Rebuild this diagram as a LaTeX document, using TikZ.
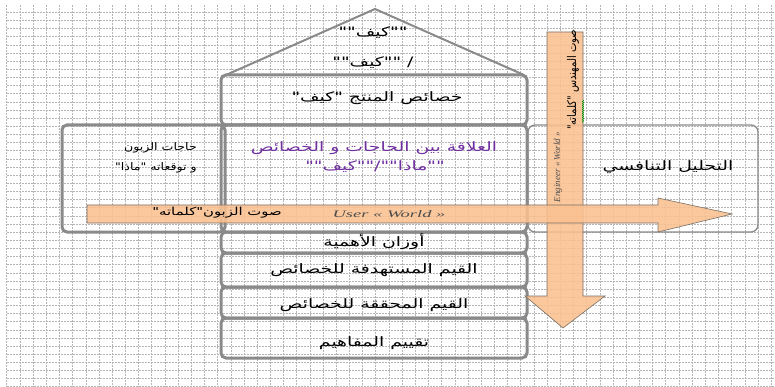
\documentclass[tikz,border=0pt]{standalone}
\usepackage{fontspec}
\usepackage{graphicx}
\setmainfont{Liberation Serif}
\newfontfamily\ar[Script=Arabic,FakeStretch=1.45]{DejaVu Sans}
\newfontfamily\arl[Script=Arabic,FakeStretch=1.2]{DejaVu Sans}
\newfontfamily\arh[Script=Arabic,FakeStretch=1.35]{DejaVu Sans}
\newfontfamily\arv[Script=Arabic]{DejaVu Sans}
\newfontfamily\enw[FakeStretch=1.85]{Liberation Serif}
\TeXXeTstate=1
\usetikzlibrary{decorations.pathmorphing}
\definecolor{boxgray}{RGB}{138,138,138}
\definecolor{peach}{RGB}{250,192,144}
\definecolor{purp}{RGB}{112,48,160}
\definecolor{gridc}{RGB}{182,182,182}
\definecolor{edgec}{RGB}{120,110,100}
\begin{document}
\begin{tikzpicture}[x=1pt,y=-1pt,
  gridline/.style={gridc, line width=0.5pt, dash pattern=on 2pt off 1pt},
  hbox/.style={draw=boxgray, line width=3pt, rounded corners=5pt, inner sep=0pt},
  rbox/.style={draw=boxgray, line width=1.3pt, rounded corners=7pt, inner sep=0pt},
  artxt/.style={font=\ar\fontsize{13}{15}\selectfont, inner sep=0pt},
  lefttxt/.style={font=\arl\fontsize{10.5}{12}\selectfont, inner sep=0pt},
  arrtxt/.style={font=\arh\fontsize{11}{13}\selectfont, inner sep=0pt},
  vtxt/.style={font=\arv\fontsize{12}{14}\selectfont, inner sep=0pt},
  entxt/.style={font=\itshape\fontsize{9}{10}\selectfont, text=black!70, inner sep=0pt},
  enwide/.style={font=\enw\itshape\fontsize{10}{11}\selectfont, text=black!70, inner sep=0pt},
  arrowshape/.style={draw=edgec, line width=0.6pt, fill=peach, fill opacity=0.88}
]
\useasboundingbox (0,0) rectangle (775,387);
% grid
\foreach \i in {0,...,58} {\draw[gridline] ({6.7+13.18*\i},5) -- ({6.7+13.18*\i},387);}
\foreach \j in {0,...,46} {\draw[gridline] (6.7,{12.3+8.14*\j}) -- (775,{12.3+8.14*\j});}
% boxes
\node[rbox, minimum width=230pt, minimum height=107pt] (comp) at (643,178.5) {};
\node[hbox, minimum width=163pt, minimum height=107pt] (needs) at (143.5,178.5) {};
\node[hbox, minimum width=306pt, minimum height=50pt] (prod) at (374,100) {};
\node[hbox, minimum width=306pt, minimum height=107pt] (rel) at (374,178.5) {};
\node[hbox, minimum width=306pt, minimum height=21pt] (w) at (374,242.5) {};
\node[hbox, minimum width=306pt, minimum height=34pt] (tgt) at (374,270) {};
\node[hbox, minimum width=306pt, minimum height=31pt] (ach) at (374,302.5) {};
\node[hbox, minimum width=306pt, minimum height=40pt] (eval) at (374,338) {};
% roof
\coordinate (rl) at (226,75);
\coordinate (apex) at (375,9);
\coordinate (rr) at (524,75);
\draw[boxgray, line width=2pt, line join=round] (rl) -- (apex) -- (rr);
% texts
\node[artxt] (r1) at (373,33) {\beginR ""كيف""\endR};
\node[artxt] (r2) at (373,63) {\beginR / ""كيف""\endR};
\node[artxt] (t1) at (377,98) {\beginR خصائص المنتج "كيف"\endR};
\node[lefttxt, anchor=east] (n1) at (197,148) {\beginR حاجات الزبون\endR};
\node[lefttxt, anchor=east] (n2) at (197,168) {\beginR و توقعاته "ماذا"\endR};
\node[artxt, text=purp] (c1) at (374,148) {\beginR العلاقة بين الحاجات و الخصائص\endR};
\node[artxt, text=purp] (c2) at (375,167) {\beginR ""ماذا""/""كيف""\endR};
\node[artxt] (ct) at (668,167) {\beginR التحليل التنافسي\endR};
\node[artxt] (wt) at (374,242) {\beginR أوزان الأهمية\endR};
\node[artxt] (tt) at (374,270) {\beginR القيم المستهدفة للخصائص\endR};
\node[artxt] (at) at (374,305) {\beginR القيم المحققة للخصائص\endR};
\node[artxt] (et) at (374,343) {\beginR تقييم المفاهيم\endR};
% vertical arrow (engineer)
\draw[arrowshape] (547,32) -- (583,32) -- (583,296) -- (605,296) -- (563,328) -- (525,296) -- (547,296) -- cycle;
\node[vtxt, rotate=90] (v1) at (573,80) {\scalebox{0.83}[1]{\beginR صوت المهندس "كلماته"\endR}};
\node[entxt, rotate=90] (v2) at (558,167) {Engineer « World »};
\draw[green!60!black, line width=0.5pt, decorate, decoration={snake, amplitude=0.6pt, segment length=2pt}] (583,100) -- (583,123);
% horizontal arrow (customer)
\draw[arrowshape] (87,205) -- (658,205) -- (658,198) -- (732,214) -- (658,232) -- (658,223) -- (87,223) -- cycle;
\node[arrtxt] (h1) at (217,213) {\beginR صوت الزبون"كلماته"\endR};
\node[enwide] (h2) at (389,214) {User « World »};
\end{tikzpicture}
\end{document}
